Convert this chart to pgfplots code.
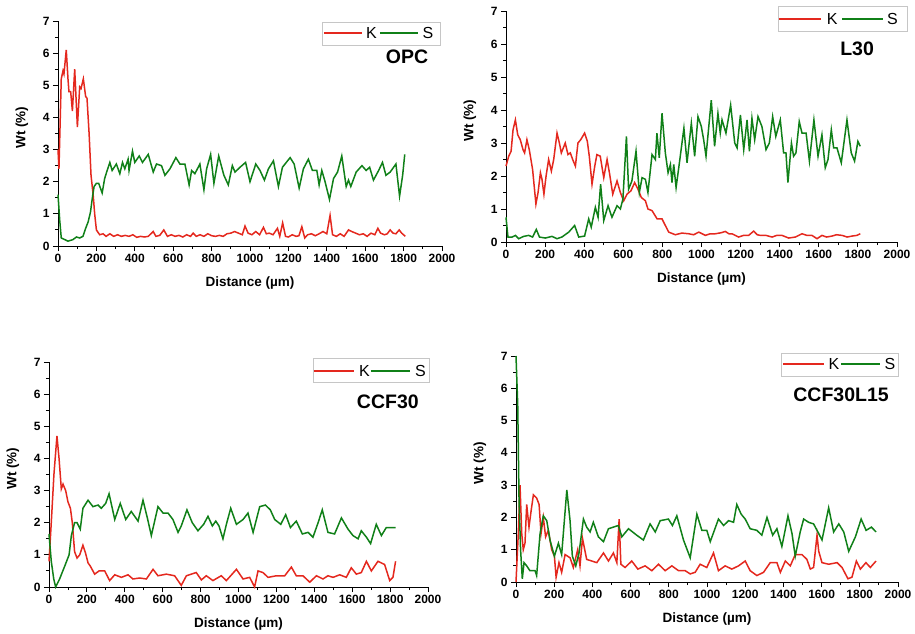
\documentclass[border=0pt]{standalone}
\usepackage{fontspec}
\setmainfont{Liberation Sans}
\usepackage{pgfplots}
\pgfplotsset{compat=1.18}
\definecolor{kred}{RGB}{228,40,30}
\definecolor{sgreen}{RGB}{16,128,24}

\tikzset{
  ttl/.style={font=\fontsize{19.5}{20}\selectfont\bfseries},
  lgt/.style={font=\fontsize{16}{16}\selectfont, inner sep=0pt},
  lgbox/.style={draw=gray!45, line width=0.8pt},
}
\pgfplotsset{
  eds/.style={
    anchor=south west, scale only axis, clip=false,
    xmin=0, xmax=2000, ymin=0, ymax=7,
    xtick={0,200,...,2000}, ytick={0,1,...,7},
    minor x tick num=1, minor y tick num=1,
    axis lines=left, axis line style={-, line width=0.9pt},
    tick align=outside, major tick length=5pt, minor tick length=3pt,
    every tick/.style={black, line width=0.9pt},
    tick label style={font=\fontsize{12}{12}\selectfont\bfseries},
    /pgf/number format/assume math mode=true,
    /pgf/number format/1000 sep={},
    xlabel={Distance (µm)}, ylabel={Wt (\%)},
    every axis x label/.style={at={(axis description cs:0.5,0)}, anchor=center, yshift=-37pt,
      font=\fontsize{13.5}{14}\selectfont\bfseries},
    every axis y label/.style={at={(axis description cs:0,0.5)}, xshift=-36pt, yshift=6pt,
      rotate=90, anchor=center, font=\fontsize{13.5}{14}\selectfont\bfseries},
    every axis plot/.append style={line width=1.5pt},
  },
  key/.style={line width=1.1pt, forget plot},
}

\begin{document}
\begin{tikzpicture}
\path[use as bounding box] (0,0) rectangle (915pt,633pt);

% OPC
\begin{axis}[eds, at={(58pt,387pt)}, width=384pt, height=225pt]
\addplot[kred] coordinates {(0,3.0)(5,2.4)(17,5.2)(26,5.45)(31,5.35)(43,6.1)(52,5.2)(57,4.8)(66,4.8)(75,4.2)(87,5.5)(101,3.7)(113,4.95)(120,4.9)(132,5.2)(144,4.65)(151,4.6)(162,3.5)(172,2.2)(183,1.6)(191,1.0)(200,0.5)(217,0.35)(235,0.38)(250,0.3)(270,0.38)(290,0.3)(310,0.35)(330,0.3)(350,0.33)(370,0.3)(390,0.35)(410,0.27)(430,0.3)(450,0.28)(470,0.3)(496,0.45)(510,0.3)(530,0.33)(551,0.5)(570,0.3)(590,0.35)(610,0.3)(630,0.33)(650,0.28)(670,0.35)(690,0.3)(704,0.4)(720,0.3)(740,0.35)(760,0.3)(780,0.38)(800,0.32)(820,0.3)(840,0.33)(860,0.3)(880,0.38)(900,0.4)(920,0.45)(940,0.4)(960,0.35)(974,0.62)(990,0.4)(1010,0.35)(1030,0.45)(1050,0.35)(1070,0.58)(1085,0.38)(1100,0.4)(1120,0.35)(1143,0.55)(1155,0.3)(1170,0.72)(1185,0.3)(1200,0.28)(1220,0.35)(1240,0.3)(1255,0.32)(1270,0.6)(1285,0.25)(1300,0.35)(1320,0.38)(1340,0.32)(1360,0.38)(1380,0.45)(1400,0.38)(1417,0.95)(1430,0.35)(1450,0.3)(1470,0.38)(1490,0.3)(1513,0.5)(1530,0.45)(1550,0.4)(1570,0.35)(1590,0.38)(1610,0.3)(1630,0.4)(1650,0.35)(1666,0.55)(1680,0.4)(1700,0.35)(1715,0.38)(1730,0.5)(1745,0.4)(1760,0.38)(1777,0.5)(1790,0.4)(1809,0.3)};
\addplot[sgreen] coordinates {(0,1.6)(9,0.8)(17,0.25)(35,0.2)(52,0.15)(78,0.2)(96,0.28)(113,0.25)(130,0.3)(144,0.55)(157,0.75)(169,1.05)(179,1.5)(188,1.85)(200,1.95)(212,1.95)(230,1.65)(243,2.1)(256,2.35)(270,2.6)(282,2.35)(304,2.55)(322,2.25)(336,2.6)(348,2.4)(365,2.7)(370,2.35)(388,2.95)(400,2.6)(423,2.8)(440,2.6)(470,2.85)(496,2.3)(513,2.55)(539,2.5)(557,2.2)(583,2.4)(614,2.75)(635,2.55)(661,2.55)(683,1.9)(696,2.35)(713,2.25)(739,2.55)(760,1.75)(774,2.4)(795,2.85)(812,1.95)(837,2.8)(864,2.2)(887,1.9)(908,2.5)(922,2.3)(948,2.45)(977,2.6)(1000,2.0)(1030,2.55)(1052,2.35)(1075,2.05)(1096,2.4)(1122,2.65)(1148,1.85)(1169,2.45)(1209,2.75)(1230,2.55)(1256,1.8)(1278,2.4)(1304,2.7)(1325,2.35)(1348,2.35)(1360,1.9)(1374,2.35)(1391,2.0)(1414,1.45)(1435,2.1)(1456,2.3)(1478,2.8)(1501,1.85)(1513,2.05)(1525,1.85)(1553,2.3)(1583,2.5)(1605,2.35)(1623,2.45)(1643,2.05)(1670,2.35)(1690,2.6)(1708,2.2)(1730,2.3)(1760,2.55)(1779,1.55)(1795,2.2)(1806,2.85)};
% legend
\draw[lgbox] (axis cs:1375,6.253) rectangle (axis cs:1990,6.969);
\addplot[kred, key] coordinates {(1385,6.627)(1583,6.627)};
\addplot[sgreen, key] coordinates {(1677,6.627)(1875,6.627)};
\node[lgt] at (axis cs:1633,6.627) {K};
\node[lgt] at (axis cs:1927,6.627) {S};
\node[ttl] at (rel axis cs:0.909,0.84) {OPC};
\end{axis}

% L30
\begin{axis}[eds, at={(506pt,391pt)}, width=391pt, height=231pt]
\addplot[kred] coordinates {(0,2.3)(14,2.6)(26,2.75)(36,3.4)(48,3.7)(60,3.25)(73,3.1)(87,2.8)(95,2.7)(107,3.1)(119,2.8)(136,2.2)(153,1.15)(164,1.5)(176,2.1)(184,1.9)(194,1.45)(205,2.0)(218,2.5)(232,2.15)(244,2.5)(261,3.3)(273,3.0)(283,2.7)(303,3.0)(317,2.65)(329,2.7)(341,2.5)(355,2.3)(368,3.0)(382,3.1)(402,3.3)(416,3.05)(426,2.6)(440,1.75)(454,2.3)(465,2.65)(482,2.6)(500,1.95)(517,2.5)(529,2.1)(546,1.45)(568,1.85)(585,1.5)(602,1.25)(619,1.45)(639,1.55)(658,1.8)(675,1.6)(692,1.35)(713,1.25)(726,1.0)(747,0.95)(773,0.7)(798,0.7)(815,0.5)(832,0.3)(866,0.22)(900,0.27)(934,0.25)(960,0.22)(986,0.3)(1020,0.2)(1045,0.25)(1071,0.25)(1100,0.28)(1122,0.32)(1140,0.25)(1156,0.25)(1190,0.15)(1215,0.2)(1241,0.2)(1267,0.33)(1285,0.22)(1301,0.2)(1330,0.2)(1361,0.15)(1385,0.2)(1412,0.2)(1446,0.12)(1480,0.15)(1514,0.25)(1540,0.2)(1565,0.2)(1591,0.1)(1616,0.2)(1640,0.15)(1668,0.18)(1690,0.22)(1719,0.2)(1745,0.15)(1770,0.18)(1795,0.2)(1812,0.25)};
\addplot[sgreen] coordinates {(0,0.75)(10,0.15)(31,0.15)(48,0.2)(65,0.1)(90,0.17)(116,0.2)(136,0.15)(155,0.38)(171,0.15)(201,0.12)(235,0.17)(261,0.1)(286,0.15)(321,0.3)(351,0.5)(372,0.15)(402,0.18)(423,0.7)(436,0.45)(457,1.05)(471,0.75)(484,1.75)(500,0.65)(522,1.1)(542,0.75)(568,1.1)(585,1.0)(598,1.3)(616,3.2)(627,1.6)(644,1.85)(665,2.75)(682,1.5)(696,1.95)(713,1.9)(726,1.5)(747,2.65)(764,2.5)(772,3.3)(784,2.55)(798,3.9)(815,2.7)(829,2.1)(841,2.35)(849,1.8)(858,2.35)(870,1.65)(887,2.4)(910,3.45)(926,2.4)(948,3.6)(965,2.6)(982,3.8)(999,3.5)(1011,3.1)(1023,2.6)(1050,4.3)(1067,2.9)(1084,3.9)(1096,3.3)(1105,3.7)(1125,3.3)(1149,4.15)(1170,3.0)(1182,2.85)(1199,3.85)(1216,2.8)(1233,3.7)(1245,2.75)(1258,3.75)(1272,3.1)(1289,3.8)(1309,3.5)(1330,2.8)(1347,3.0)(1364,3.8)(1380,3.2)(1403,3.7)(1420,2.7)(1432,2.7)(1442,1.8)(1460,3.0)(1471,2.6)(1483,2.7)(1500,3.65)(1514,3.3)(1535,3.3)(1552,2.45)(1575,3.7)(1596,2.6)(1616,3.25)(1633,2.25)(1647,2.5)(1664,3.4)(1676,2.85)(1693,2.85)(1715,2.4)(1744,3.7)(1766,2.7)(1783,2.45)(1800,3.05)(1812,2.9)};
% legend
\draw[lgbox] (axis cs:1391,6.394) rectangle (axis cs:2051,7.152);
\addplot[kred, key] coordinates {(1396,6.758)(1611,6.758)};
\addplot[sgreen, key] coordinates {(1719,6.758)(1928,6.758)};
\node[lgt] at (axis cs:1668,6.758) {K};
\node[lgt] at (axis cs:1977,6.758) {S};
\node[ttl] at (rel axis cs:0.898,0.835) {L30};
\end{axis}

% CCF30
\begin{axis}[eds, at={(49pt,46pt)}, width=379pt, height=225pt]
\addplot[kred] coordinates {(0,0.8)(12,2.0)(26,3.5)(42,4.7)(53,4.0)(65,3.05)(74,3.2)(88,3.0)(100,2.65)(113,2.45)(123,2.0)(135,1.1)(148,0.9)(162,1.0)(179,1.3)(193,1.05)(206,0.75)(218,0.65)(241,0.4)(264,0.5)(294,0.5)(320,0.2)(347,0.38)(382,0.3)(417,0.38)(443,0.25)(478,0.28)(514,0.25)(549,0.55)(575,0.35)(619,0.4)(663,0.35)(698,0.05)(725,0.35)(777,0.45)(804,0.22)(830,0.35)(865,0.2)(909,0.35)(936,0.2)(989,0.55)(1024,0.25)(1059,0.3)(1085,0.0)(1103,0.5)(1129,0.45)(1156,0.3)(1200,0.35)(1244,0.35)(1279,0.62)(1305,0.35)(1340,0.35)(1376,0.15)(1411,0.35)(1446,0.25)(1472,0.35)(1499,0.3)(1534,0.38)(1569,0.3)(1595,0.6)(1622,0.4)(1648,0.45)(1675,0.8)(1701,0.5)(1736,0.8)(1771,0.7)(1798,0.2)(1815,0.3)(1829,0.8)};
\addplot[sgreen] coordinates {(0,1.65)(12,0.8)(25,0.25)(35,0.0)(56,0.25)(83,0.65)(106,1.0)(118,1.6)(135,2.0)(148,2.0)(165,1.8)(179,2.45)(206,2.7)(232,2.5)(259,2.55)(276,2.45)(299,2.6)(317,2.9)(347,2.1)(376,2.6)(405,2.1)(434,2.35)(470,2.05)(496,2.7)(519,2.15)(540,1.6)(575,2.5)(602,2.3)(628,2.3)(654,2.1)(681,1.7)(698,1.9)(728,2.4)(756,2.0)(786,1.75)(816,1.95)(839,2.2)(862,1.9)(880,2.05)(897,1.9)(918,1.5)(936,1.95)(959,2.45)(989,1.95)(1024,2.1)(1050,2.3)(1077,1.7)(1112,2.5)(1142,2.55)(1168,2.4)(1191,2.1)(1223,1.95)(1249,2.25)(1274,1.85)(1305,2.05)(1337,1.65)(1367,1.7)(1393,1.55)(1420,2.0)(1442,2.4)(1472,1.7)(1507,1.65)(1543,2.15)(1578,1.8)(1604,1.6)(1631,1.5)(1648,1.75)(1675,1.55)(1697,1.35)(1727,1.95)(1754,1.6)(1780,1.85)(1806,1.85)(1829,1.85)};
% legend
\draw[lgbox] (axis cs:1393,6.378) rectangle (axis cs:2005,7.124);
\addplot[kred, key] coordinates {(1398,6.72)(1609,6.72)};
\addplot[sgreen, key] coordinates {(1699,6.72)(1905,6.72)};
\node[lgt] at (axis cs:1665,6.72) {K};
\node[lgt] at (axis cs:1960,6.72) {S};
\node[ttl] at (rel axis cs:0.894,0.822) {CCF30};
\end{axis}

% CCF30L15
\begin{axis}[eds, at={(516pt,51pt)}, width=382pt, height=226pt]
\addplot[kred] coordinates {(0,0)(12,1.5)(21,3.0)(30,1.5)(38,1.0)(47,1.2)(56,2.4)(68,1.7)(79,2.2)(91,2.7)(108,2.6)(121,2.4)(131,1.5)(143,2.0)(155,1.4)(169,1.6)(187,1.0)(201,0.8)(210,0.15)(225,0.6)(239,0.3)(257,0.85)(283,0.75)(300,0.45)(323,1.0)(335,0.5)(348,1.35)(370,0.7)(397,0.65)(423,0.6)(458,0.9)(484,0.65)(510,0.9)(528,0.6)(540,1.95)(549,0.55)(571,0.45)(606,0.65)(638,0.4)(676,0.5)(711,0.35)(746,0.55)(781,0.35)(816,0.5)(851,0.35)(886,0.35)(912,0.25)(938,0.3)(964,0.55)(999,0.45)(1034,0.9)(1060,0.35)(1095,0.5)(1130,0.4)(1165,0.5)(1200,0.65)(1226,0.35)(1261,0.2)(1296,0.3)(1331,0.6)(1366,0.6)(1384,0.3)(1410,0.65)(1436,0.5)(1462,0.85)(1497,0.85)(1523,0.7)(1541,0.4)(1558,0.45)(1576,1.45)(1585,0.95)(1602,0.6)(1637,0.55)(1681,0.6)(1707,0.45)(1738,0.1)(1759,0.15)(1782,0.65)(1803,0.4)(1832,0.6)(1855,0.45)(1885,0.65)};
\addplot[sgreen] coordinates {(0,7.0)(9,5.5)(16,2.5)(24,1.0)(33,0.1)(42,0.6)(56,0.5)(73,0.35)(100,0.35)(108,0.2)(126,1.5)(143,2.05)(161,1.9)(178,1.3)(201,0.8)(222,1.2)(239,0.85)(266,2.85)(283,1.9)(295,0.8)(313,0.5)(330,0.9)(353,1.95)(370,1.7)(388,1.55)(405,1.85)(431,1.4)(458,1.25)(484,1.65)(510,1.7)(536,1.75)(554,1.4)(589,1.65)(632,1.45)(667,1.3)(702,1.8)(729,1.55)(755,1.9)(798,1.95)(819,1.75)(842,2.05)(877,1.3)(912,0.75)(947,2.1)(973,1.6)(999,1.6)(1017,1.25)(1060,1.95)(1087,1.75)(1113,1.9)(1139,1.85)(1156,2.4)(1179,2.1)(1200,1.95)(1226,1.65)(1261,1.6)(1287,1.45)(1314,2.0)(1344,1.45)(1366,1.65)(1392,1.1)(1424,2.05)(1445,1.5)(1462,0.8)(1488,1.55)(1506,1.95)(1532,1.85)(1558,1.8)(1585,1.5)(1602,1.3)(1637,2.3)(1663,1.55)(1690,1.8)(1716,1.55)(1742,0.95)(1777,1.4)(1807,1.95)(1833,1.6)(1861,1.7)(1885,1.55)};
% legend
\draw[lgbox] (axis cs:1387,6.381) rectangle (axis cs:2000,7.093);
\addplot[kred, key] coordinates {(1398,6.752)(1613,6.752)};
\addplot[sgreen, key] coordinates {(1702,6.752)(1906,6.752)};
\node[lgt] at (axis cs:1665,6.752) {K};
\node[lgt] at (axis cs:1958,6.752) {S};
\node[ttl] at (rel axis cs:0.851,0.827) {CCF30L15};
\end{axis}
\end{tikzpicture}
\end{document}
